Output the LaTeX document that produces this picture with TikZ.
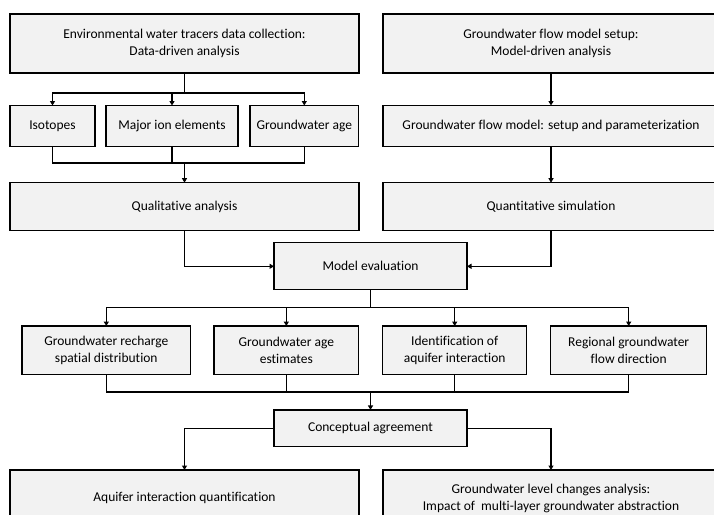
\documentclass[tikz,border=0pt]{standalone}
\usepackage{fontspec}
\setmainfont{Carlito}[Ligatures=NoCommon]
\usetikzlibrary{arrows.meta}
\definecolor{boxgray}{HTML}{F2F2F2}
\tikzset{
  box/.style={draw=black, line width=1.2pt, fill=boxgray, align=center,
    inner sep=0pt, outer sep=0pt, font=\fontsize{13.5}{17}\selectfont},
  link/.style={line width=1.2pt},
  arr/.style={link, -{Triangle[length=4.5pt,width=5pt]}}
}
\begin{document}
\begin{tikzpicture}[x=1pt,y=-1pt]
\useasboundingbox (0,0) rectangle (714,514);
\fill[white] (0,0) rectangle (714,514);
\clip (0,0) rectangle (714,514);

% top row: the two analysis branches
\node[box, minimum width=349, minimum height=59] (env) at (184.5,43.5)
  {Environmental water tracers data collection:\\Data-driven analysis};
\node[box, minimum width=336, minimum height=59] (gfs) at (551,43.5)
  {Groundwater flow model setup:\\Model-driven analysis};

% tracer types
\node[box, minimum width=85, minimum height=41] (iso) at (52.5,126) {Isotopes};
\node[box, minimum width=132, minimum height=41] (maj) at (172,126) {Major ion elements};
\node[box, minimum width=108.7, minimum height=41] (age) at (304.3,126) {Groundwater age};
\node[box, minimum width=336, minimum height=41] (gfm) at (551,126)
  {Groundwater flow model: setup and parameterization};

% analysis
\node[box, minimum width=349, minimum height=48] (qual) at (184.5,206.7) {Qualitative analysis};
\node[box, minimum width=336, minimum height=48] (quan) at (551,206.7) {Quantitative simulation};

% evaluation
\node[box, minimum width=193, minimum height=47] (meval) at (370.5,266.3) {Model evaluation};

% outcomes
\node[box, minimum width=168.7, minimum height=48.3] (r1) at (106.3,350.2)
  {Groundwater recharge\\spatial distribution};
\node[box, minimum width=144.7, minimum height=48.3] (r2) at (286.3,350.2)
  {Groundwater age\\estimates};
\node[box, minimum width=144, minimum height=48.3] (r3) at (454.7,350.2)
  {Identification of\\aquifer interaction};
\node[box, minimum width=156, minimum height=48.3] (r4) at (628.7,350.2)
  {Regional groundwater\\flow direction};

% agreement
\node[box, minimum width=193, minimum height=36.7] (concept) at (370.5,428.3) {Conceptual agreement};

% final products
\node[box, minimum width=349, minimum height=56] (aqu) at (184.5,498)
  {Aquifer interaction quantification};
\node[box, minimum width=336, minimum height=56] (gwl) at (551,498)
  {Groundwater level changes analysis:\\Impact of\ \ multi-layer groundwater abstraction};

% junction points
\coordinate (s1) at (184.5,93);
\coordinate (j1) at (184.5,163);
\coordinate (s2) at (370.5,307.7);
\coordinate (j2) at (370.5,392);

% data-driven branch
\draw[link] (env.south) -- (s1);
\draw[arr] (s1) -| (iso.north);
\draw[arr] (s1) -| (maj.north);
\draw[arr] (s1) -| (age.north);
\draw[link] (iso.south) |- (j1);
\draw[link] (age.south) |- (j1);
\draw[link] (maj.south) -- (maj.south |- j1);
\draw[arr] (j1) -- (qual.north);

% model-driven branch
\draw[arr] (gfs.south) -- (gfm.north);
\draw[arr] (gfm.south) -- (quan.north);

% into evaluation
\draw[arr] (qual.south) |- (meval.west);
\draw[arr] (quan.south) |- (meval.east);

% evaluation fan-out
\draw[link] (meval.south) -- (s2);
\draw[arr] (s2) -| (r1.north);
\draw[arr] (s2) -| (r2.north);
\draw[arr] (s2) -| (r3.north);
\draw[arr] (s2) -| (r4.north);

% fan-in to agreement
\draw[link] (r1.south) |- (j2);
\draw[link] (r4.south) |- (j2);
\draw[link] (r2.south) -- (r2.south |- j2);
\draw[link] (r3.south) -- (r3.south |- j2);
\draw[arr] (j2) -- (concept.north);

% agreement to final products
\draw[arr] (concept.west) -| (aqu.north);
\draw[arr] (concept.east) -| (gwl.north);
\end{tikzpicture}
\end{document}
